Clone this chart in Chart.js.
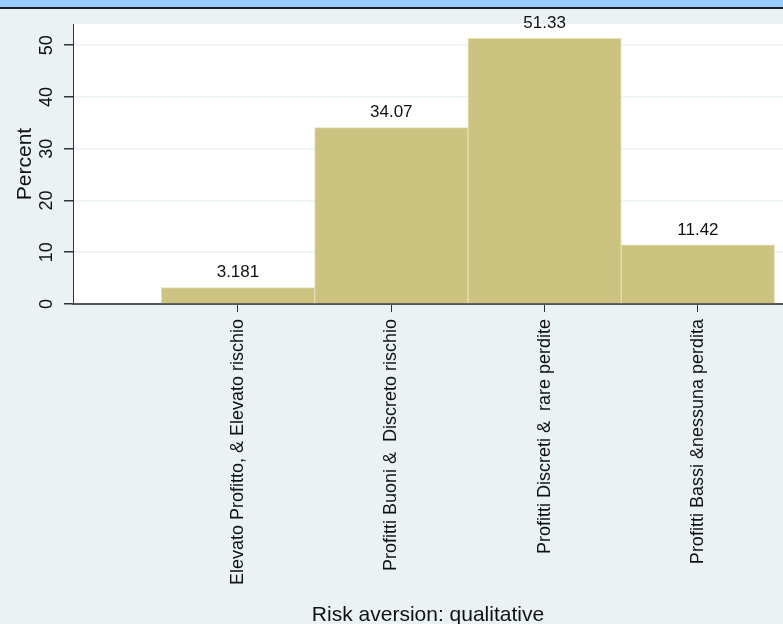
<!DOCTYPE html>
<html>
<head>
<meta charset="utf-8">
<script src="https://cdn.jsdelivr.net/npm/chart.js@4/dist/chart.umd.min.js"></script>
<style>
  html, body { margin: 0; padding: 0; background: #eaf2f3; }
  canvas { display: block; }
</style>
</head>
<body>
<canvas id="chart" width="783" height="624"></canvas>
<script>
// category positions on the x axis and their labels
const categoryPositions = [1, 2, 3, 4];
const categoryLabels = [
  "Elevato Profitto, & Elevato rischio",
  "Profitti Buoni &  Discreto rischio",
  "Profitti Discreti &  rare perdite",
  "Profitti Bassi &nessuna perdita"
];
const percentValues = [3.181, 34.07, 51.33, 11.42];
const valueLabels = ["3.181", "34.07", "51.33", "11.42"];
const yTicks = [0, 10, 20, 30, 40, 50];

const FONT = "'Liberation Sans', Arial, sans-serif";

// stata-ish background: light frame, white plot region, blue band on top
const backdrop = {
  id: "backdrop",
  beforeDraw(chart) {
    const { ctx, chartArea: a, width } = chart;
    ctx.save();
    ctx.fillStyle = "#eaf2f3";
    ctx.fillRect(0, 0, width, chart.height);
    ctx.fillStyle = "#ffffff";
    ctx.fillRect(a.left, a.top, a.right - a.left, a.bottom - a.top);
    ctx.fillStyle = "#99ccff";
    ctx.fillRect(0, 0, width, 7);
    ctx.fillStyle = "#1a1f2a";
    ctx.fillRect(0, 7, width, 2);
    ctx.restore();
  }
};

// numbers printed above each bar
const barValues = {
  id: "barValues",
  afterDatasetsDraw(chart) {
    const { ctx } = chart;
    const meta = chart.getDatasetMeta(0);
    ctx.save();
    ctx.font = "17px " + FONT;
    ctx.fillStyle = "#111";
    ctx.textAlign = "center";
    ctx.textBaseline = "middle";
    meta.data.forEach((bar, i) => {
      ctx.fillText(valueLabels[i], bar.x, bar.y - 15);
    });
    ctx.restore();
  }
};

new Chart(document.getElementById("chart"), {
  type: "bar",
  data: {
    datasets: [{
      data: categoryPositions.map((x, i) => ({ x: x, y: percentValues[i] })),
      backgroundColor: "#cbc37f",
      borderColor: "#e4dfb8",
      borderWidth: 1,
      barPercentage: 1,
      categoryPercentage: 1
    }]
  },
  options: {
    responsive: false,
    animation: false,
    layout: { padding: { top: 24, right: 0, left: 0, bottom: 0 } },
    plugins: {
      legend: { display: false },
      tooltip: { enabled: false }
    },
    scales: {
      x: {
        type: "linear",
        offset: false,
        min: -0.076,
        max: 4.555,
        afterBuildTicks: (scale) => {
          scale.ticks = categoryPositions.map((v) => ({ value: v }));
        },
        afterFit: (scale) => { scale.height = 320; },
        ticks: {
          minRotation: 90,
          maxRotation: 90,
          padding: 7,
          color: "#111",
          font: { family: FONT, size: 18 },
          callback: (v) => categoryLabels[categoryPositions.indexOf(v)] || ""
        },
        grid: {
          offset: false,
          drawOnChartArea: false,
          tickColor: "#333",
          tickLength: 8
        },
        border: { color: "#555", width: 2 },
        title: {
          display: true,
          text: "Risk aversion: qualitative",
          color: "#111",
          font: { family: FONT, size: 21, lineHeight: 0.8 },
          padding: { top: 0, bottom: 0 }
        }
      },
      y: {
        min: 0,
        max: 54.1,
        afterBuildTicks: (scale) => {
          scale.ticks = yTicks.map((v) => ({ value: v }));
        },
        afterFit: (scale) => { scale.width = 73; },
        ticks: {
          minRotation: 90,
          maxRotation: 90,
          crossAlign: "center",
          padding: 7,
          color: "#111",
          font: { family: FONT, size: 18 }
        },
        grid: {
          color: "#eaf2f3",
          lineWidth: 1.5,
          tickColor: "#333",
          tickLength: 9
        },
        border: { color: "#333", width: 1 },
        title: {
          display: true,
          text: "Percent",
          color: "#111",
          font: { family: FONT, size: 21, lineHeight: 1 },
          padding: { top: 15, bottom: 0 }
        }
      }
    }
  },
  plugins: [backdrop, barValues]
});
</script>
</body>
</html>
